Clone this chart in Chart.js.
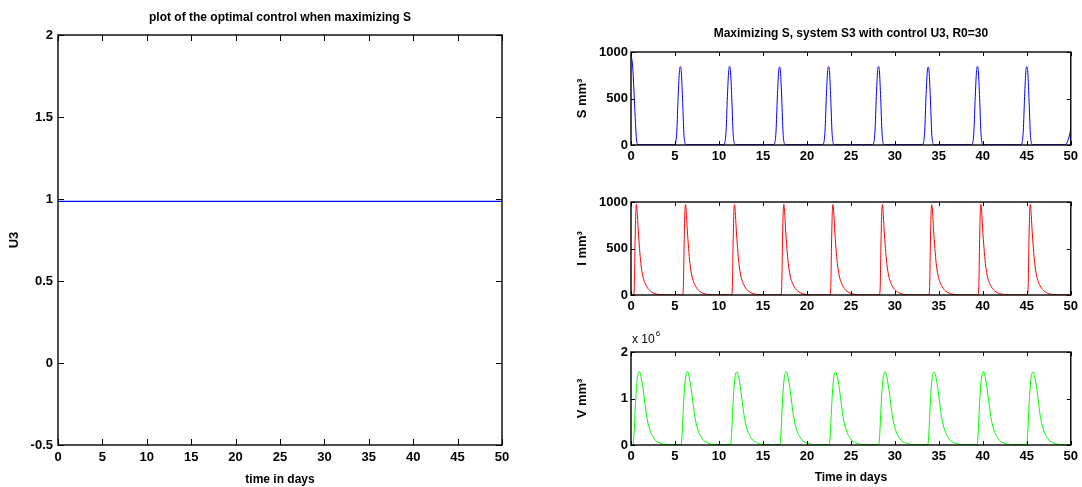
<!DOCTYPE html>
<html>
<head>
<meta charset="utf-8">
<script src="https://cdn.jsdelivr.net/npm/chart.js@4.4.0/dist/chart.umd.min.js"></script>
<style>
  body { margin: 0; background: #fff; width: 1082px; height: 487px; position: relative; overflow: hidden; }
  canvas { position: absolute; }
</style>
</head>
<body>
<canvas id="u3Chart" width="540" height="487" style="left:0;top:0"></canvas>
<canvas id="sChart" width="522" height="170" style="left:560px;top:0"></canvas>
<canvas id="iChart" width="522" height="150" style="left:560px;top:170px"></canvas>
<canvas id="vChart" width="522" height="167" style="left:560px;top:320px"></canvas>
<script>
// tick labels
const timeTicks = [0, 5, 10, 15, 20, 25, 30, 35, 40, 45, 50];
const u3Ticks = [-0.5, 0, 0.5, 1, 1.5, 2];
const cellTicks = [0, 500, 1000];
const virusTicks = [0, 1, 2]; // x 10^6

// optimal control U3
const uTime = [0, 50];
const uValues = [0.985, 0.985];

// S (mm^3)
const sTime = [0, 0.1, 0.2, 0.3, 0.4, 0.5, 0.6, 0.7, 0.8,
  4.91, 5.06, 5.21, 5.36, 5.51, 5.61, 5.71, 5.86, 6.01, 6.16, 6.31,
  10.51, 10.66, 10.81, 10.96, 11.11, 11.21, 11.31, 11.46, 11.61, 11.76, 11.91,
  16.19, 16.34, 16.49, 16.64, 16.79, 16.89, 16.99, 17.14, 17.29, 17.44, 17.59,
  21.76, 21.91, 22.06, 22.21, 22.36, 22.46, 22.56, 22.71, 22.86, 23.01, 23.16,
  27.44, 27.59, 27.74, 27.89, 28.04, 28.14, 28.24, 28.39, 28.54, 28.69, 28.84,
  33.09, 33.24, 33.39, 33.54, 33.69, 33.79, 33.89, 34.04, 34.19, 34.34, 34.49,
  38.69, 38.84, 38.99, 39.14, 39.29, 39.39, 39.49, 39.64, 39.79, 39.94, 40.09,
  44.3, 44.45, 44.6, 44.75, 44.9, 45.0, 45.1, 45.25, 45.4, 45.55, 45.7,
  49.35, 49.5, 49.65, 49.8, 50];
const sValues = [960, 920, 830, 650, 450, 250, 90, 15, 3,
  3, 20, 150, 520, 800, 842, 800, 500, 130, 15, 3,
  3, 20, 150, 520, 800, 845, 800, 500, 130, 15, 3,
  3, 20, 150, 515, 795, 838, 795, 495, 130, 15, 3,
  3, 20, 150, 520, 800, 842, 800, 500, 130, 15, 3,
  3, 20, 150, 520, 800, 845, 800, 500, 130, 15, 3,
  3, 20, 150, 515, 795, 838, 795, 495, 130, 15, 3,
  3, 20, 150, 520, 800, 845, 800, 500, 130, 15, 3,
  3, 20, 150, 520, 800, 842, 800, 500, 130, 15, 3,
  3, 12, 40, 85, 165];

// I (mm^3)
const iTime = [0, 0.27, 0.37, 0.47, 0.55, 0.62, 0.7, 0.82, 0.97, 1.12, 1.32, 1.52, 1.82, 2.22, 2.72, 3.32, 3.92,
  5.85, 5.95, 6.05, 6.13, 6.2, 6.28, 6.4, 6.55, 6.7, 6.9, 7.1, 7.4, 7.8, 8.3, 8.9, 9.5,
  11.42, 11.52, 11.62, 11.7, 11.77, 11.85, 11.97, 12.12, 12.27, 12.47, 12.67, 12.97, 13.37, 13.87, 14.47, 15.07,
  17.03, 17.13, 17.23, 17.31, 17.38, 17.46, 17.58, 17.73, 17.88, 18.08, 18.28, 18.58, 18.98, 19.48, 20.08, 20.68,
  22.61, 22.71, 22.81, 22.89, 22.96, 23.04, 23.16, 23.31, 23.46, 23.66, 23.86, 24.16, 24.56, 25.06, 25.66, 26.26,
  28.23, 28.33, 28.43, 28.51, 28.58, 28.66, 28.78, 28.93, 29.08, 29.28, 29.48, 29.78, 30.18, 30.68, 31.28, 31.88,
  33.85, 33.95, 34.05, 34.13, 34.2, 34.28, 34.4, 34.55, 34.7, 34.9, 35.1, 35.4, 35.8, 36.3, 36.9, 37.5,
  39.44, 39.54, 39.64, 39.72, 39.79, 39.87, 39.99, 40.14, 40.29, 40.49, 40.69, 40.99, 41.39, 41.89, 42.49, 43.09,
  45.05, 45.15, 45.25, 45.33, 45.4, 45.48, 45.6, 45.75, 45.9, 46.1, 46.3, 46.6, 47.0, 47.5, 48.1, 48.7,
  50];
const iValues = [1, 1, 80, 600, 900, 975, 900, 700, 500, 340, 215, 145, 85, 40, 15, 4, 1,
  1, 80, 600, 900, 975, 900, 700, 500, 340, 215, 145, 85, 40, 15, 4, 1,
  1, 80, 600, 900, 972, 900, 700, 500, 340, 215, 145, 85, 40, 15, 4, 1,
  1, 80, 600, 900, 975, 900, 700, 500, 340, 215, 145, 85, 40, 15, 4, 1,
  1, 80, 600, 900, 973, 900, 700, 500, 340, 215, 145, 85, 40, 15, 4, 1,
  1, 80, 600, 900, 975, 900, 700, 500, 340, 215, 145, 85, 40, 15, 4, 1,
  1, 80, 600, 900, 972, 900, 700, 500, 340, 215, 145, 85, 40, 15, 4, 1,
  1, 80, 600, 900, 975, 900, 700, 500, 340, 215, 145, 85, 40, 15, 4, 1,
  1, 80, 600, 900, 973, 900, 700, 500, 340, 215, 145, 85, 40, 15, 4, 1,
  1];

// V (mm^3, in units of 10^6)
const vTime = [0, 0.23, 0.36, 0.48, 0.6, 0.73, 0.86, 0.98, 1.1, 1.23, 1.38, 1.58, 1.78, 1.98, 2.18, 2.48, 2.78, 3.18, 3.68, 4.18,
  5.7, 5.83, 5.95, 6.07, 6.2, 6.33, 6.45, 6.57, 6.7, 6.85, 7.05, 7.25, 7.45, 7.65, 7.95, 8.25, 8.65, 9.15, 9.65,
  11.32, 11.45, 11.57, 11.69, 11.82, 11.95, 12.07, 12.19, 12.32, 12.47, 12.67, 12.87, 13.07, 13.27, 13.57, 13.87, 14.27, 14.77, 15.27,
  16.93, 17.06, 17.18, 17.3, 17.43, 17.56, 17.68, 17.8, 17.93, 18.08, 18.28, 18.48, 18.68, 18.88, 19.18, 19.48, 19.88, 20.38, 20.88,
  22.55, 22.68, 22.8, 22.92, 23.05, 23.18, 23.3, 23.42, 23.55, 23.7, 23.9, 24.1, 24.3, 24.5, 24.8, 25.1, 25.5, 26.0, 26.5,
  28.17, 28.3, 28.42, 28.54, 28.67, 28.8, 28.92, 29.04, 29.17, 29.32, 29.52, 29.72, 29.92, 30.12, 30.42, 30.72, 31.12, 31.62, 32.12,
  33.75, 33.88, 34.0, 34.12, 34.25, 34.38, 34.5, 34.62, 34.75, 34.9, 35.1, 35.3, 35.5, 35.7, 36.0, 36.3, 36.7, 37.2, 37.7,
  39.35, 39.48, 39.6, 39.72, 39.85, 39.98, 40.1, 40.22, 40.35, 40.5, 40.7, 40.9, 41.1, 41.3, 41.6, 41.9, 42.3, 42.8, 43.3,
  44.99, 45.12, 45.24, 45.36, 45.49, 45.62, 45.74, 45.86, 45.99, 46.14, 46.34, 46.54, 46.74, 46.94, 47.24, 47.54, 47.94, 48.44, 48.94,
  50];
const vValues = [0.01, 0.01, 0.3, 0.78, 1.18, 1.45, 1.56, 1.58, 1.5, 1.38, 1.2, 0.9, 0.62, 0.43, 0.3, 0.18, 0.1, 0.05, 0.02, 0.01,
  0.01, 0.3, 0.78, 1.18, 1.45, 1.56, 1.58, 1.5, 1.38, 1.2, 0.9, 0.62, 0.43, 0.3, 0.18, 0.1, 0.05, 0.02, 0.01,
  0.01, 0.3, 0.78, 1.18, 1.45, 1.56, 1.57, 1.5, 1.38, 1.2, 0.9, 0.62, 0.43, 0.3, 0.18, 0.1, 0.05, 0.02, 0.01,
  0.01, 0.3, 0.78, 1.18, 1.45, 1.56, 1.58, 1.5, 1.38, 1.2, 0.9, 0.62, 0.43, 0.3, 0.18, 0.1, 0.05, 0.02, 0.01,
  0.01, 0.3, 0.78, 1.18, 1.45, 1.56, 1.57, 1.5, 1.38, 1.2, 0.9, 0.62, 0.43, 0.3, 0.18, 0.1, 0.05, 0.02, 0.01,
  0.01, 0.3, 0.78, 1.18, 1.45, 1.56, 1.58, 1.5, 1.38, 1.2, 0.9, 0.62, 0.43, 0.3, 0.18, 0.1, 0.05, 0.02, 0.01,
  0.01, 0.3, 0.78, 1.18, 1.45, 1.56, 1.57, 1.5, 1.38, 1.2, 0.9, 0.62, 0.43, 0.3, 0.18, 0.1, 0.05, 0.02, 0.01,
  0.01, 0.3, 0.78, 1.18, 1.45, 1.56, 1.58, 1.5, 1.38, 1.2, 0.9, 0.62, 0.43, 0.3, 0.18, 0.1, 0.05, 0.02, 0.01,
  0.01, 0.3, 0.78, 1.18, 1.45, 1.56, 1.57, 1.5, 1.38, 1.2, 0.9, 0.62, 0.43, 0.3, 0.18, 0.1, 0.05, 0.02, 0.01,
  0.01];

const FONT = "'Liberation Sans', Arial, sans-serif";
Chart.defaults.font.family = FONT;
Chart.defaults.color = '#000';

// matlab style box with inward ticks on all four sides
const boxTicks = {
  id: 'boxTicks',
  afterDatasetsDraw(chart, args, opts) {
    const { ctx, chartArea: a, scales } = chart;
    const len = opts.len || 5;
    ctx.save();
    ctx.strokeStyle = '#000';
    ctx.lineWidth = 1;
    ctx.beginPath();
    scales.x.ticks.forEach(t => {
      const px = Math.round(scales.x.getPixelForValue(t.value)) + 0.5;
      ctx.moveTo(px, a.bottom); ctx.lineTo(px, a.bottom - len);
      ctx.moveTo(px, a.top); ctx.lineTo(px, a.top + len);
    });
    scales.y.ticks.forEach(t => {
      const py = Math.round(scales.y.getPixelForValue(t.value)) + 0.5;
      ctx.moveTo(a.left, py); ctx.lineTo(a.left + len, py);
      ctx.moveTo(a.right, py); ctx.lineTo(a.right - len, py);
    });
    ctx.stroke();
    ctx.lineWidth = 1.4;
    ctx.strokeRect(a.left, a.top, a.right - a.left, a.bottom - a.top);
    // exponent label above the axis
    if (opts.exponent) {
      ctx.fillStyle = '#000';
      ctx.textBaseline = 'alphabetic';
      ctx.font = '12px ' + FONT;
      ctx.fillText('x 10', a.left + 1, a.top - 9);
      const w = ctx.measureText('x 10').width;
      ctx.font = '8px ' + FONT;
      ctx.fillText(opts.exponent, a.left + 2 + w, a.top - 16);
    }
    ctx.restore();
  }
};

function toPoints(xs, ys) {
  return xs.map((x, k) => ({ x: x, y: ys[k] }));
}

function makeChart(id, cfg) {
  const tickFont = { size: 13, weight: 'bold' };
  const titleFont = { size: 12, weight: 'bold' };
  const yTitleFont = { size: 13, weight: 'bold' };
  return new Chart(document.getElementById(id), {
    type: 'line',
    data: {
      datasets: [{
        data: toPoints(cfg.xs, cfg.ys),
        borderColor: cfg.color,
        borderWidth: cfg.lineWidth || 1,
        pointRadius: 0,
        cubicInterpolationMode: 'monotone',
        fill: false
      }]
    },
    plugins: [boxTicks],
    options: {
      responsive: false,
      animation: false,
      layout: { padding: cfg.padding },
      plugins: {
        legend: { display: false },
        tooltip: { enabled: false },
        title: {
          display: !!cfg.title,
          text: cfg.title,
          fullSize: false,
          font: titleFont,
          color: '#000',
          padding: cfg.titlePad
        },
        boxTicks: { len: cfg.tickLen, exponent: cfg.exponent }
      },
      scales: {
        x: {
          type: 'linear',
          min: 0,
          max: 50,
          grid: { display: false, drawTicks: false },
          border: { display: false },
          ticks: { font: tickFont, padding: cfg.xPad, autoSkip: false, maxRotation: 0, callback: v => String(v) },
          afterBuildTicks: s => { s.ticks = timeTicks.map(v => ({ value: v })); },
          afterFit: s => { s.height = cfg.xHeight; },
          title: {
            display: !!cfg.xTitle,
            text: cfg.xTitle,
            font: titleFont,
            padding: { top: 0, bottom: cfg.xTitlePad }
          }
        },
        y: {
          type: 'linear',
          min: cfg.yTicks[0],
          max: cfg.yTicks[cfg.yTicks.length - 1],
          grid: { display: false, drawTicks: false },
          border: { display: false },
          ticks: { font: tickFont, padding: cfg.yPad, autoSkip: false, callback: v => String(v) },
          afterBuildTicks: s => { s.ticks = cfg.yTicks.map(v => ({ value: v })); },
          afterFit: s => { s.width = cfg.yWidth; },
          title: {
            display: true,
            text: cfg.yTitle,
            font: yTitleFont,
            padding: { top: cfg.yTitlePad, bottom: 0 }
          }
        }
      }
    }
  });
}

// left: optimal control
makeChart('u3Chart', {
  xs: uTime, ys: uValues, color: '#0000ff', lineWidth: 1.2,
  yTicks: u3Ticks,
  title: 'plot of the optimal control when maximizing S',
  titlePad: { top: 10, bottom: 10.6 },
  padding: { left: 0, right: 38, top: 0, bottom: 0 },
  xHeight: 42, yWidth: 58, xPad: 5, yPad: 5, tickLen: 6,
  xTitle: 'time in days', xTitlePad: 0,
  yTitle: 'U3', yTitlePad: 7
});

// right: S, I, V
makeChart('sChart', {
  xs: sTime, ys: sValues, color: '#0000ff',
  yTicks: cellTicks,
  title: 'Maximizing S, system S3 with control U3, R0=30',
  titlePad: { top: 26.8, bottom: 10.8 },
  padding: { left: 0, right: 9, top: 0, bottom: 0 },
  xHeight: 25, yWidth: 71, xPad: 4, yPad: 3, tickLen: 4,
  yTitle: 'S mm³', yTitlePad: 15
});

makeChart('iChart', {
  xs: iTime, ys: iValues, color: '#ff0000',
  yTicks: cellTicks,
  padding: { left: 0, right: 9, top: 32, bottom: 0 },
  xHeight: 25, yWidth: 71, xPad: 4, yPad: 3, tickLen: 4,
  yTitle: 'I mm³', yTitlePad: 15
});

makeChart('vChart', {
  xs: vTime, ys: vValues, color: '#00ff00',
  yTicks: virusTicks, exponent: '6',
  padding: { left: 0, right: 9, top: 32, bottom: 0 },
  xHeight: 42, yWidth: 71, xPad: 4, yPad: 3, tickLen: 4,
  xTitle: 'Time in days', xTitlePad: 2,
  yTitle: 'V mm³', yTitlePad: 15
});
</script>
</body>
</html>
